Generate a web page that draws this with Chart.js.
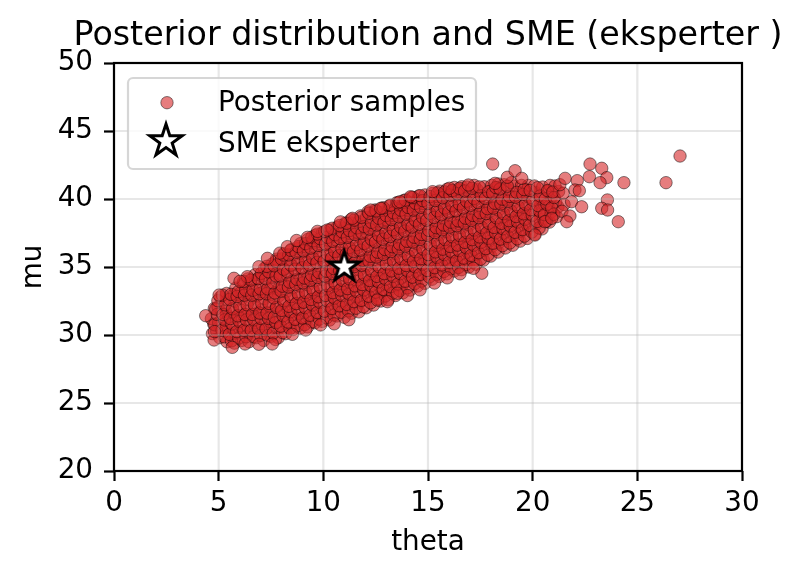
<!DOCTYPE html>
<html><head><meta charset="utf-8">
<script src="https://cdn.jsdelivr.net/npm/chart.js@4"></script>
<style>html,body{margin:0;padding:0;background:#fff;}#wrap{width:803px;height:578px;}</style>
</head><body><div id="wrap"><canvas id="c" width="803" height="578"></canvas></div>
<script>
const chartTitle = 'Posterior distribution and SME (eksperter )';
const xLabel = 'theta';
const yLabel = 'mu';
const xTicks = [0, 5, 10, 15, 20, 25, 30];
const yTicks = [20, 25, 30, 35, 40, 45, 50];
const seriesLabels = ['Posterior samples', 'SME eksperter'];
const smePoint = [[11, 35]];
const posteriorSamples = [
[4.70,30.1],[4.76,30.82],[4.65,31.2],[4.79,31.95],
[5.05,29.8],[5.11,30.52],[5.00,30.9],[5.14,31.65],[4.97,32.06],[5.08,32.78],
[5.40,29.5],[5.46,30.22],[5.35,30.6],[5.49,31.35],[5.32,31.76],[5.43,32.58],[5.38,33.06],
[5.75,29.4],[5.81,30.12],[5.70,30.5],[5.84,31.25],[5.67,31.66],[5.78,32.48],[5.73,32.96],[5.82,33.45],
[6.10,29.6],[6.16,30.32],[6.05,30.7],[6.19,31.45],[6.02,31.86],[6.13,32.68],[6.08,33.16],[6.17,33.75],
[6.45,29.5],[6.51,30.22],[6.40,30.6],[6.54,31.35],[6.37,31.76],[6.48,32.58],[6.43,33.06],[6.52,33.85],[6.39,34.13],
[6.80,29.8],[6.86,30.52],[6.75,30.9],[6.89,31.65],[6.72,32.06],[6.83,32.88],[6.78,33.36],[6.87,34.15],[6.74,34.43],
[7.15,29.6],[7.21,30.32],[7.10,30.7],[7.24,31.45],[7.07,31.86],[7.18,32.68],[7.13,33.16],[7.22,33.95],[7.09,34.33],[7.19,34.9],
[7.50,29.9],[7.56,30.62],[7.45,31.0],[7.59,31.75],[7.42,32.16],[7.53,32.98],[7.48,33.46],[7.57,34.25],[7.44,34.63],[7.54,35.2],
[7.85,29.8],[7.91,30.52],[7.80,30.9],[7.94,31.65],[7.77,32.06],[7.88,32.88],[7.83,33.36],[7.92,34.15],[7.79,34.53],[7.89,35.3],[7.76,35.58],
[8.20,30.1],[8.26,30.82],[8.15,31.2],[8.29,31.95],[8.12,32.36],[8.23,33.18],[8.18,33.66],[8.27,34.45],[8.14,34.83],[8.24,35.6],[8.11,35.98],
[8.55,30.4],[8.61,31.12],[8.50,31.5],[8.64,32.25],[8.47,32.66],[8.58,33.48],[8.53,33.96],[8.62,34.75],[8.49,35.13],[8.59,35.9],[8.46,36.28],
[8.90,30.5],[8.96,31.22],[8.85,31.6],[8.99,32.35],[8.82,32.76],[8.93,33.58],[8.88,34.06],[8.97,34.85],[8.84,35.23],[8.94,36.0],[8.81,36.38],[8.91,36.72],
[9.25,30.6],[9.31,31.32],[9.20,31.7],[9.34,32.45],[9.17,32.86],[9.28,33.68],[9.23,34.16],[9.32,34.95],[9.19,35.33],[9.29,36.1],[9.16,36.48],[9.26,37.03],
[9.60,30.9],[9.66,31.62],[9.55,32.0],[9.69,32.75],[9.52,33.16],[9.63,33.98],[9.58,34.46],[9.67,35.25],[9.54,35.63],[9.64,36.4],[9.51,36.78],[9.61,37.33],
[9.95,31.0],[10.01,31.72],[9.90,32.1],[10.04,32.85],[9.87,33.26],[9.98,34.08],[9.93,34.56],[10.02,35.35],[9.89,35.73],[9.99,36.5],[9.86,36.88],[9.96,37.53],
[10.30,31.1],[10.36,31.82],[10.25,32.2],[10.39,32.95],[10.22,33.36],[10.33,34.18],[10.28,34.66],[10.37,35.45],[10.24,35.83],[10.34,36.6],[10.21,36.98],[10.31,37.73],
[10.65,31.4],[10.71,32.12],[10.60,32.5],[10.74,33.25],[10.57,33.66],[10.68,34.48],[10.63,34.96],[10.72,35.75],[10.59,36.13],[10.69,36.9],[10.56,37.28],[10.66,37.93],
[11.00,31.3],[11.06,32.02],[10.95,32.4],[11.09,33.15],[10.92,33.56],[11.03,34.38],[10.98,34.86],[11.07,35.65],[10.94,36.03],[11.04,36.8],[10.91,37.18],[11.01,37.83],[11.04,38.22],
[11.35,31.6],[11.41,32.32],[11.30,32.7],[11.44,33.45],[11.27,33.86],[11.38,34.68],[11.33,35.16],[11.42,35.95],[11.29,36.33],[11.39,37.1],[11.26,37.48],[11.36,38.23],[11.32,38.5],
[11.70,31.7],[11.76,32.42],[11.65,32.8],[11.79,33.55],[11.62,33.96],[11.73,34.78],[11.68,35.26],[11.77,36.05],[11.64,36.43],[11.74,37.2],[11.61,37.58],[11.71,38.33],[11.78,38.76],
[12.05,32.0],[12.11,32.72],[12.00,33.1],[12.14,33.85],[11.97,34.26],[12.08,35.08],[12.03,35.56],[12.12,36.35],[11.99,36.73],[12.09,37.5],[11.96,37.88],[12.06,38.63],[12.13,39.06],
[12.40,32.2],[12.46,32.92],[12.35,33.3],[12.49,34.05],[12.32,34.46],[12.43,35.28],[12.38,35.76],[12.47,36.55],[12.34,36.93],[12.44,37.7],[12.31,38.08],[12.41,38.83],[12.48,39.2],
[12.75,32.5],[12.81,33.22],[12.70,33.6],[12.84,34.35],[12.67,34.76],[12.78,35.58],[12.73,36.06],[12.82,36.85],[12.69,37.23],[12.79,38.0],[12.66,38.38],[12.76,39.0],[12.80,39.33],
[13.10,32.6],[13.16,33.32],[13.05,33.7],[13.19,34.45],[13.02,34.86],[13.13,35.68],[13.08,36.16],[13.17,36.95],[13.04,37.33],[13.14,38.1],[13.01,38.48],[13.11,39.13],[13.15,39.5],
[13.45,32.9],[13.51,33.62],[13.40,34.0],[13.54,34.75],[13.37,35.16],[13.48,35.98],[13.43,36.46],[13.52,37.25],[13.39,37.63],[13.49,38.4],[13.36,38.78],[13.46,39.33],[13.50,39.72],
[13.80,33.1],[13.86,33.82],[13.75,34.2],[13.89,34.95],[13.72,35.36],[13.83,36.18],[13.78,36.66],[13.87,37.45],[13.74,37.83],[13.84,38.6],[13.71,38.98],[13.81,39.53],[13.85,39.9],
[14.15,33.3],[14.21,34.02],[14.10,34.4],[14.24,35.15],[14.07,35.56],[14.18,36.38],[14.13,36.86],[14.22,37.65],[14.09,38.03],[14.19,38.8],[14.06,39.18],[14.16,39.73],[14.20,40.1],
[14.50,33.6],[14.56,34.32],[14.45,34.7],[14.59,35.45],[14.42,35.86],[14.53,36.68],[14.48,37.16],[14.57,37.95],[14.44,38.33],[14.54,39.1],[14.41,39.48],[14.51,39.93],[14.55,40.22],
[14.85,33.8],[14.91,34.52],[14.80,34.9],[14.94,35.65],[14.77,36.06],[14.88,36.88],[14.83,37.36],[14.92,38.15],[14.79,38.53],[14.89,39.3],[14.76,39.68],[14.86,40.3],
[15.20,34.1],[15.26,34.82],[15.15,35.2],[15.29,35.95],[15.12,36.36],[15.23,37.18],[15.18,37.66],[15.27,38.45],[15.14,38.83],[15.24,39.6],[15.11,39.98],[15.21,40.4],
[15.55,34.3],[15.61,35.02],[15.50,35.4],[15.64,36.15],[15.47,36.56],[15.58,37.38],[15.53,37.86],[15.62,38.65],[15.49,39.03],[15.59,39.8],[15.46,40.18],[15.56,40.58],
[15.90,34.5],[15.96,35.22],[15.85,35.6],[15.99,36.35],[15.82,36.76],[15.93,37.58],[15.88,38.06],[15.97,38.85],[15.84,39.23],[15.94,40.0],[15.81,40.38],[15.91,40.72],
[16.25,34.7],[16.31,35.42],[16.20,35.8],[16.34,36.55],[16.17,36.96],[16.28,37.78],[16.23,38.26],[16.32,39.05],[16.19,39.43],[16.29,40.2],[16.16,40.58],[16.26,40.85],
[16.60,34.8],[16.66,35.52],[16.55,35.9],[16.69,36.65],[16.52,37.06],[16.63,37.88],[16.58,38.36],[16.67,39.15],[16.54,39.53],[16.64,40.3],[16.51,40.68],[16.61,40.9],
[16.95,35.0],[17.01,35.72],[16.90,36.1],[17.04,36.85],[16.87,37.26],[16.98,38.08],[16.93,38.56],[17.02,39.35],[16.89,39.73],[16.99,40.5],[16.86,40.88],
[17.30,35.2],[17.36,35.92],[17.25,36.3],[17.39,37.05],[17.22,37.46],[17.33,38.28],[17.28,38.76],[17.37,39.55],[17.24,39.93],[17.34,40.7],[17.21,41.0],
[17.65,35.5],[17.71,36.22],[17.60,36.6],[17.74,37.35],[17.57,37.76],[17.68,38.58],[17.63,39.06],[17.72,39.85],[17.59,40.23],[17.69,40.9],
[18.00,35.8],[18.06,36.52],[17.95,36.9],[18.09,37.65],[17.92,38.06],[18.03,38.88],[17.98,39.36],[18.07,40.15],[17.94,40.53],[18.04,41.0],
[18.35,36.1],[18.41,36.82],[18.30,37.2],[18.44,37.95],[18.27,38.36],[18.38,39.18],[18.33,39.66],[18.42,40.45],[18.29,40.83],[18.36,41.1],
[18.70,36.4],[18.76,37.12],[18.65,37.5],[18.79,38.25],[18.62,38.66],[18.73,39.48],[18.68,39.96],[18.77,40.75],[18.64,41.05],
[19.05,36.6],[19.11,37.32],[19.00,37.7],[19.14,38.45],[18.97,38.86],[19.08,39.68],[19.03,40.16],[19.12,40.95],[18.99,41.2],
[19.40,36.9],[19.46,37.62],[19.35,38.0],[19.49,38.75],[19.32,39.16],[19.43,39.98],[19.38,40.46],[19.47,41.0],
[19.75,37.1],[19.81,37.82],[19.70,38.2],[19.84,38.95],[19.67,39.36],[19.78,40.18],[19.73,40.66],[19.80,41.0],
[20.10,37.4],[20.16,38.12],[20.05,38.5],[20.19,39.25],[20.02,39.66],[20.13,40.48],[20.08,40.96],
[20.45,37.8],[20.51,38.52],[20.40,38.9],[20.54,39.65],[20.37,40.06],[20.48,40.88],
[20.80,38.3],[20.86,39.02],[20.75,39.4],[20.89,40.15],[20.72,40.56],[20.83,41.0],
[21.15,38.7],[21.21,39.42],[21.10,39.8],[21.24,40.55],[21.07,40.96],
[4.91,30.27],[4.81,30.75],[4.93,31.51],[4.86,31.91],[4.96,32.52],
[5.26,29.87],[5.16,30.35],[5.28,31.11],[5.21,31.51],[5.31,32.22],[5.18,32.93],
[5.61,29.57],[5.51,30.05],[5.63,30.81],[5.56,31.21],[5.66,31.92],[5.53,32.63],[5.59,32.99],
[5.96,29.77],[5.86,30.25],[5.98,31.01],[5.91,31.41],[6.01,32.12],[5.88,32.83],[5.94,33.19],
[6.31,29.87],[6.21,30.35],[6.33,31.11],[6.26,31.51],[6.36,32.22],[6.23,32.93],[6.29,33.29],[6.19,33.94],
[6.66,29.87],[6.56,30.35],[6.68,31.11],[6.61,31.51],[6.71,32.22],[6.58,32.93],[6.64,33.29],[6.54,34.04],
[7.01,29.97],[6.91,30.45],[7.03,31.21],[6.96,31.61],[7.06,32.32],[6.93,33.03],[6.99,33.39],[6.89,34.14],[7.04,34.54],
[7.36,29.97],[7.26,30.45],[7.38,31.21],[7.31,31.61],[7.41,32.32],[7.28,33.03],[7.34,33.39],[7.24,34.14],[7.39,34.64],[7.30,35.05],
[7.71,29.67],[7.61,30.15],[7.73,30.91],[7.66,31.31],[7.76,32.02],[7.63,32.73],[7.69,33.09],[7.59,33.84],[7.74,34.34],[7.65,35.09],[7.74,35.42],
[8.06,30.17],[7.96,30.65],[8.08,31.41],[8.01,31.81],[8.11,32.52],[7.98,33.23],[8.04,33.59],[7.94,34.34],[8.09,34.84],[8.00,35.59],[8.10,35.88],
[8.41,30.47],[8.31,30.95],[8.43,31.71],[8.36,32.11],[8.46,32.82],[8.33,33.53],[8.39,33.89],[8.29,34.64],[8.44,35.14],[8.35,35.89],[8.45,36.22],
[8.76,30.67],[8.66,31.15],[8.78,31.91],[8.71,32.31],[8.81,33.02],[8.68,33.73],[8.74,34.09],[8.64,34.84],[8.79,35.34],[8.70,36.09],[8.80,36.5],
[9.11,30.77],[9.01,31.25],[9.13,32.01],[9.06,32.41],[9.16,33.12],[9.03,33.83],[9.09,34.19],[8.99,34.94],[9.14,35.44],[9.05,36.19],[9.15,36.72],
[9.46,30.97],[9.36,31.45],[9.48,32.21],[9.41,32.61],[9.51,33.32],[9.38,34.03],[9.44,34.39],[9.34,35.14],[9.49,35.64],[9.40,36.39],[9.50,36.92],[9.45,37.2],
[9.81,31.17],[9.71,31.65],[9.83,32.41],[9.76,32.81],[9.86,33.52],[9.73,34.23],[9.79,34.59],[9.69,35.34],[9.84,35.84],[9.75,36.59],[9.85,37.08],[9.72,37.42],
[10.16,31.27],[10.06,31.75],[10.18,32.51],[10.11,32.91],[10.21,33.62],[10.08,34.33],[10.14,34.69],[10.04,35.44],[10.19,35.94],[10.10,36.69],[10.20,37.18],[10.07,37.62],
[10.51,31.47],[10.41,31.95],[10.53,32.71],[10.46,33.11],[10.56,33.82],[10.43,34.53],[10.49,34.89],[10.39,35.64],[10.54,36.14],[10.45,36.89],[10.55,37.38],[10.42,37.85],
[10.86,31.67],[10.76,32.15],[10.88,32.91],[10.81,33.31],[10.91,34.02],[10.78,34.73],[10.84,35.09],[10.74,35.84],[10.89,36.34],[10.80,37.09],[10.90,37.58],[10.77,38.05],
[11.21,31.77],[11.11,32.25],[11.23,33.01],[11.16,33.41],[11.26,34.12],[11.13,34.83],[11.19,35.19],[11.09,35.94],[11.24,36.44],[11.15,37.19],[11.25,37.68],[11.12,38.22],
[11.56,31.97],[11.46,32.45],[11.58,33.21],[11.51,33.61],[11.61,34.32],[11.48,35.03],[11.54,35.39],[11.44,36.14],[11.59,36.64],[11.50,37.39],[11.60,37.88],[11.47,38.45],
[11.91,32.07],[11.81,32.55],[11.93,33.31],[11.86,33.71],[11.96,34.42],[11.83,35.13],[11.89,35.49],[11.79,36.24],[11.94,36.74],[11.85,37.49],[11.95,37.98],[11.82,38.65],
[12.26,32.37],[12.16,32.85],[12.28,33.61],[12.21,34.01],[12.31,34.72],[12.18,35.43],[12.24,35.79],[12.14,36.54],[12.29,37.04],[12.20,37.79],[12.30,38.28],[12.17,38.95],
[12.61,32.67],[12.51,33.15],[12.63,33.91],[12.56,34.31],[12.66,35.02],[12.53,35.73],[12.59,36.09],[12.49,36.84],[12.64,37.34],[12.55,38.09],[12.65,38.58],[12.52,39.12],
[12.96,32.87],[12.86,33.35],[12.98,34.11],[12.91,34.51],[13.01,35.22],[12.88,35.93],[12.94,36.29],[12.84,37.04],[12.99,37.54],[12.90,38.29],[13.00,38.78],[12.87,39.35],
[13.31,33.07],[13.21,33.55],[13.33,34.31],[13.26,34.71],[13.36,35.42],[13.23,36.13],[13.29,36.49],[13.19,37.24],[13.34,37.74],[13.25,38.49],[13.35,38.98],[13.22,39.55],
[13.66,33.27],[13.56,33.75],[13.68,34.51],[13.61,34.91],[13.71,35.62],[13.58,36.33],[13.64,36.69],[13.54,37.44],[13.69,37.94],[13.60,38.69],[13.70,39.18],[13.57,39.72],
[14.01,33.47],[13.91,33.95],[14.03,34.71],[13.96,35.11],[14.06,35.82],[13.93,36.53],[13.99,36.89],[13.89,37.64],[14.04,38.14],[13.95,38.89],[14.05,39.38],[13.92,39.92],
[14.36,33.77],[14.26,34.25],[14.38,35.01],[14.31,35.41],[14.41,36.12],[14.28,36.83],[14.34,37.19],[14.24,37.94],[14.39,38.44],[14.30,39.19],[14.40,39.68],[14.27,40.12],
[14.71,33.97],[14.61,34.45],[14.73,35.21],[14.66,35.61],[14.76,36.32],[14.63,37.03],[14.69,37.39],[14.59,38.14],[14.74,38.64],[14.65,39.39],[14.75,39.88],[14.62,40.25],
[15.06,34.27],[14.96,34.75],[15.08,35.51],[15.01,35.91],[15.11,36.62],[14.98,37.33],[15.04,37.69],[14.94,38.44],[15.09,38.94],[15.00,39.69],[15.10,40.18],
[15.41,34.47],[15.31,34.95],[15.43,35.71],[15.36,36.11],[15.46,36.82],[15.33,37.53],[15.39,37.89],[15.29,38.64],[15.44,39.14],[15.35,39.89],[15.45,40.45],
[15.76,34.67],[15.66,35.15],[15.78,35.91],[15.71,36.31],[15.81,37.02],[15.68,37.73],[15.74,38.09],[15.64,38.84],[15.79,39.34],[15.70,40.09],[15.80,40.52],
[16.11,34.87],[16.01,35.35],[16.13,36.11],[16.06,36.51],[16.16,37.22],[16.03,37.93],[16.09,38.29],[15.99,39.04],[16.14,39.54],[16.05,40.29],[16.15,40.62],
[16.46,34.97],[16.36,35.45],[16.48,36.21],[16.41,36.61],[16.51,37.32],[16.38,38.03],[16.44,38.39],[16.34,39.14],[16.49,39.64],[16.40,40.39],[16.50,40.78],
[16.81,35.17],[16.71,35.65],[16.83,36.41],[16.76,36.81],[16.86,37.52],[16.73,38.23],[16.79,38.59],[16.69,39.34],[16.84,39.84],[16.75,40.59],
[17.16,35.37],[17.06,35.85],[17.18,36.61],[17.11,37.01],[17.21,37.72],[17.08,38.43],[17.14,38.79],[17.04,39.54],[17.19,40.04],[17.10,40.79],
[17.51,35.57],[17.41,36.05],[17.53,36.81],[17.46,37.21],[17.56,37.92],[17.43,38.63],[17.49,38.99],[17.39,39.74],[17.54,40.24],[17.45,40.89],
[17.86,35.87],[17.76,36.35],[17.88,37.11],[17.81,37.51],[17.91,38.22],[17.78,38.93],[17.84,39.29],[17.74,40.04],[17.89,40.54],
[18.21,36.27],[18.11,36.75],[18.23,37.51],[18.16,37.91],[18.26,38.62],[18.13,39.33],[18.19,39.69],[18.09,40.44],[18.24,40.84],
[18.56,36.57],[18.46,37.05],[18.58,37.81],[18.51,38.21],[18.61,38.92],[18.48,39.63],[18.54,39.99],[18.44,40.74],
[18.91,36.77],[18.81,37.25],[18.93,38.01],[18.86,38.41],[18.96,39.12],[18.83,39.83],[18.89,40.19],[18.79,40.94],
[19.26,37.07],[19.16,37.55],[19.28,38.31],[19.21,38.71],[19.31,39.42],[19.18,40.13],[19.24,40.49],
[19.61,37.27],[19.51,37.75],[19.63,38.51],[19.56,38.91],[19.66,39.62],[19.53,40.33],[19.59,40.69],
[19.96,37.57],[19.86,38.05],[19.98,38.81],[19.91,39.21],[20.01,39.92],[19.88,40.63],
[20.31,37.87],[20.21,38.35],[20.33,39.11],[20.26,39.51],[20.36,40.22],[20.23,40.83],
[20.66,38.37],[20.56,38.85],[20.68,39.61],[20.61,40.01],[20.71,40.62],
[21.01,38.87],[20.91,39.35],[21.03,40.11],[20.96,40.51],
[5.73,34.17],[6.37,34.29],[6.02,33.95],[6.92,35.02],[7.33,35.64],[7.92,36.02],[8.28,36.5],[8.72,36.95],[9.24,37.18],[9.72,37.62],[10.19,37.72],[10.82,38.32],[11.39,38.58],
[16.53,34.5],[15.92,34.2],[15.31,33.82],[14.62,33.32],[14.02,32.9],[11.22,31.12],[10.52,30.82],[8.52,30.05],[6.92,29.32],
[4.38,31.42],[4.78,29.63],[4.80,30.25],[5.02,32.94],[5.65,29.09],[6.26,29.34],[7.56,29.34],[9.16,30.37],[9.87,30.74],
[12.26,39.19],[12.74,39.31],[13.66,39.8],[14.17,40.17],[15.22,40.54],[16.02,40.79],[16.93,41.03],[18.20,41.15],
[18.09,42.57],[18.79,41.6],[19.16,42.08],[19.48,41.52],[17.57,34.54],[17.17,34.9],[12.58,32.57],[13.06,32.45],[13.53,33.07],
[20.11,37.35],[20.59,38.33],[20.91,38.58],[21.46,40.42],[21.50,39.6],[21.40,39.1],[21.30,41.05],
[21.55,41.52],[22.13,41.35],[22.02,40.66],[22.23,40.61],[21.86,39.8],[22.34,39.43],[21.78,38.75],[21.63,38.33],
[22.71,41.64],[22.74,42.57],[23.30,42.26],[23.54,41.57],[23.22,41.2],[23.57,39.93],[23.30,39.32],[23.58,39.19],
[24.09,38.33],[24.36,41.2],[26.37,41.2],[27.04,43.16]
];

const FS = 27.8;
const dpr = window.devicePixelRatio || 1;
Chart.defaults.font.family = "'DejaVu Sans', sans-serif";
Chart.defaults.color = '#000';

function starPath(g, cx, cy, R) {
  g.beginPath();
  for (let k = 0; k < 10; k++) {
    const a = -Math.PI / 2 + k * Math.PI / 5;
    const r = k % 2 === 0 ? R : R * 0.381966;
    const px = cx + r * Math.cos(a), py = cy + r * Math.sin(a);
    if (k === 0) g.moveTo(px, py); else g.lineTo(px, py);
  }
  g.closePath();
}
function drawStar(g, cx, cy, R, lw) {
  starPath(g, cx, cy, R);
  g.fillStyle = '#fff'; g.fill();
  g.lineWidth = lw; g.lineJoin = 'miter'; g.strokeStyle = '#000'; g.stroke();
}
function makeStarImage(R, lw) {
  const size = Math.ceil(2 * (R + lw + 3));
  const c = document.createElement('canvas');
  c.width = size * dpr; c.height = size * dpr;
  const g = c.getContext('2d');
  g.scale(dpr, dpr);
  drawStar(g, size / 2, size / 2, R, lw);
  const img = new Image(size, size);
  img.src = c.toDataURL();
  return img;
}

const gridOver = {
  id: 'gridOver',
  afterDatasetDraw(chart, args) {
    if (args.index !== 0) return;
    const {ctx, chartArea: a, scales: {x, y}} = chart;
    ctx.save();
    ctx.strokeStyle = 'rgba(176,176,176,0.3)';
    ctx.lineWidth = 2.2;
    xTicks.forEach(v => { const p = x.getPixelForValue(v); ctx.beginPath(); ctx.moveTo(p, a.top); ctx.lineTo(p, a.bottom); ctx.stroke(); });
    yTicks.forEach(v => { const p = y.getPixelForValue(v); ctx.beginPath(); ctx.moveTo(a.left, p); ctx.lineTo(a.right, p); ctx.stroke(); });
    ctx.restore();
  }
};

const deco = {
  id: 'deco',
  afterDraw(chart) {
    const {ctx, chartArea: a} = chart;
    ctx.save();
    ctx.strokeStyle = '#000'; ctx.lineWidth = 2.2;
    ctx.strokeRect(a.left, a.top, a.right - a.left, a.bottom - a.top);
    ctx.fillStyle = '#000';
    ctx.font = '33.3px "DejaVu Sans"';
    ctx.textAlign = 'center'; ctx.textBaseline = 'alphabetic';
    ctx.fillText(chartTitle, (a.left + a.right) / 2, a.top - 18);
    const lx = a.left + 14, ly = a.top + 15, lw = 348, lh = 91;
    ctx.beginPath();
    if (ctx.roundRect) ctx.roundRect(lx, ly, lw, lh, 5); else ctx.rect(lx, ly, lw, lh);
    ctx.fillStyle = 'rgba(255,255,255,0.8)'; ctx.fill();
    ctx.strokeStyle = 'rgba(204,204,204,0.8)'; ctx.lineWidth = 2.2; ctx.stroke();
    const ds = chart.data.datasets;
    ctx.beginPath(); ctx.arc(a.left + 53, a.top + 39.7, 6.2, 0, Math.PI * 2);
    ctx.fillStyle = 'rgba(214,39,40,0.6)'; ctx.fill();
    ctx.strokeStyle = 'rgba(0,0,0,0.6)'; ctx.lineWidth = 0.8; ctx.stroke();
    drawStar(ctx, a.left + 52, a.top + 78, 17, 3);
    ctx.fillStyle = '#000';
    ctx.font = FS + 'px "DejaVu Sans"';
    ctx.textAlign = 'left';
    ctx.fillText(ds[0].label, a.left + 104, a.top + 48);
    ctx.fillText(ds[1].label, a.left + 104, a.top + 88.7);
    ctx.restore();
  }
};

const starImg = makeStarImage(16, 3);
function build() {
  new Chart(document.getElementById('c'), {
    type: 'scatter',
    data: {
      datasets: [
        {
          label: seriesLabels[0],
          data: posteriorSamples.map(([x, y]) => ({x, y})),
          pointRadius: 6.2,
          pointBackgroundColor: 'rgba(214,39,40,0.6)',
          pointBorderColor: 'rgba(0,0,0,0.6)',
          pointBorderWidth: 0.8,
          order: 1
        },
        {
          label: seriesLabels[1],
          data: smePoint.map(([x, y]) => ({x, y})),
          pointStyle: starImg,
          pointRadius: 16,
          order: 0
        }
      ]
    },
    options: {
      responsive: false,
      animation: false,
      layout: {padding: {top: 63, right: 61, bottom: 0, left: 0}},
      plugins: {legend: {display: false}, title: {display: false}, tooltip: {enabled: false}},
      scales: {
        x: {
          type: 'linear', min: 0, max: 30,
          afterFit: s => { s.height = 107; },
          afterBuildTicks: s => { s.ticks = xTicks.map(v => ({value: v})); },
          ticks: {font: {size: FS}, color: '#000', padding: 6, maxRotation: 0, autoSkip: false},
          grid: {drawOnChartArea: false, drawTicks: true, tickLength: 10, tickColor: '#000', tickWidth: 2.2, color: '#000'},
          border: {display: false},
          title: {display: true, text: xLabel, font: {size: FS}, color: '#000', padding: {top: 0, bottom: 19}}
        },
        y: {
          type: 'linear', min: 20, max: 50,
          afterFit: s => { s.width = 114; },
          afterBuildTicks: s => { s.ticks = yTicks.map(v => ({value: v})); },
          ticks: {font: {size: FS}, color: '#000', padding: 11, autoSkip: false},
          grid: {drawOnChartArea: false, drawTicks: true, tickLength: 10, tickColor: '#000', tickWidth: 2.2, color: '#000'},
          border: {display: false},
          title: {display: true, text: yLabel, font: {size: FS}, color: '#000', padding: {top: 17, bottom: 0}}
        }
      }
    },
    plugins: [gridOver, deco]
  });
}
if (starImg.complete && starImg.naturalWidth) build(); else { starImg.onload = build; starImg.onerror = build; }
</script>
</body></html>
